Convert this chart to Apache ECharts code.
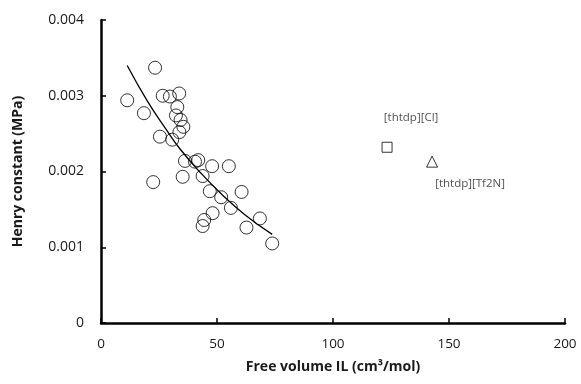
<!DOCTYPE html>
<html>
<head>
<meta charset="utf-8">
<script src="https://cdn.jsdelivr.net/npm/echarts@6/dist/echarts.min.js"></script>
<style>
html, body { margin: 0; padding: 0; background: #fff; }
#main { width: 581px; height: 384px; }
</style>
</head>
<body>
<div id="main"></div>
<script>
// free volume (cm3/mol) vs Henry constant (MPa)
var freeVolume = [23.3, 11.3, 18.5, 26.6, 29.7, 33.7, 32.9, 32.3, 34.3, 35.5,
	33.8, 25.4, 30.7, 36.2, 40.5, 41.9, 47.9, 55.1, 22.5, 35.2,
	43.8, 46.9, 51.8, 60.6, 56.0, 48.1, 44.5, 43.8, 68.5, 62.7, 73.8];
var henry = [0.00337, 0.00294, 0.00277, 0.00300, 0.00299, 0.00303, 0.00285, 0.00274, 0.00268, 0.00259,
	0.00252, 0.00246, 0.00242, 0.00214, 0.00213, 0.00215, 0.00207, 0.00207, 0.00186, 0.00193,
	0.00194, 0.00174, 0.00166, 0.00173, 0.00152, 0.00145, 0.00136, 0.00128, 0.00138, 0.00126, 0.00105];

// trend line as traced
var trendX = [11.3, 20, 28, 34, 43, 52, 62, 73.8];
var trendY = [0.00340, 0.00293, 0.00256, 0.00230, 0.00198, 0.00170, 0.00143, 0.00117];

var clPoint = [123.3, 0.00232];
var tf2nPoint = [142.7, 0.00213];

var xTicks = [0, 50, 100, 150, 200];
var yTicks = [0, 0.001, 0.002, 0.003, 0.004];

var pairs = [];
for (var i = 0; i < freeVolume.length; i++) {
	pairs.push([freeVolume[i], henry[i]]);
}
var trend = [];
for (var j = 0; j < trendX.length; j++) {
	trend.push([trendX[j], trendY[j]]);
}

var font = "'Open Sans', 'Noto Sans', sans-serif";
var axisLine = { show: true, onZero: false, lineStyle: { color: '#000', width: 2.5 } };
var axisTick = { show: true, inside: true, length: 5, lineStyle: { color: '#000', width: 1.5 } };

var option = {
	animation: false,
	backgroundColor: '#fff',
	grid: { left: 101, right: 16, top: 20, bottom: 61 },
	xAxis: {
		type: 'value',
		min: xTicks[0],
		max: xTicks[xTicks.length - 1],
		interval: 50,
		name: 'Free volume IL (cm³/mol)',
		nameLocation: 'middle',
		nameGap: 37,
		nameTextStyle: { fontFamily: font, fontWeight: 'bold', fontSize: 14, color: '#1a1a1a' },
		axisLine: axisLine,
		axisTick: axisTick,
		axisLabel: { fontFamily: font, fontSize: 13.5, color: '#1a1a1a', margin: 14 },
		splitLine: { show: false }
	},
	yAxis: {
		type: 'value',
		min: yTicks[0],
		max: yTicks[yTicks.length - 1],
		interval: 0.001,
		name: 'Henry constant (MPa)',
		nameLocation: 'middle',
		nameGap: 76,
		nameTextStyle: { fontFamily: font, fontWeight: 'bold', fontSize: 14, color: '#1a1a1a' },
		axisLine: axisLine,
		axisTick: axisTick,
		axisLabel: {
			fontFamily: font, fontSize: 14, color: '#1a1a1a', margin: 17,
			formatter: function (v) { return v === 0 ? '0' : v.toFixed(3); }
		},
		splitLine: { show: false }
	},
	series: [{
		type: 'scatter',
		data: pairs,
		symbol: 'circle',
		symbolSize: 13,
		itemStyle: { color: 'rgba(255,255,255,0)', borderColor: '#000', borderWidth: 1 }
	}, {
		type: 'line',
		data: trend,
		smooth: true,
		showSymbol: false,
		lineStyle: { color: '#000', width: 1.3 }
	}, {
		type: 'scatter',
		data: [clPoint],
		symbol: 'rect',
		symbolSize: 10,
		itemStyle: { color: '#fff', borderColor: '#000', borderWidth: 1 },
		label: {
			show: true, formatter: '[thtdp][Cl]', position: 'inside', offset: [24, -30],
			fontFamily: font, fontSize: 11.5, color: '#262626'
		}
	}, {
		type: 'scatter',
		data: [tf2nPoint],
		symbol: 'triangle',
		symbolSize: 11,
		itemStyle: { color: '#fff', borderColor: '#000', borderWidth: 1 },
		label: {
			show: true, formatter: '[thtdp][Tf2N]', position: 'inside', offset: [38, 22],
			fontFamily: font, fontSize: 11.5, color: '#262626'
		}
	}]
};

var myChart = echarts.init(document.getElementById('main'));
myChart.setOption(option);
</script>
</body>
</html>
